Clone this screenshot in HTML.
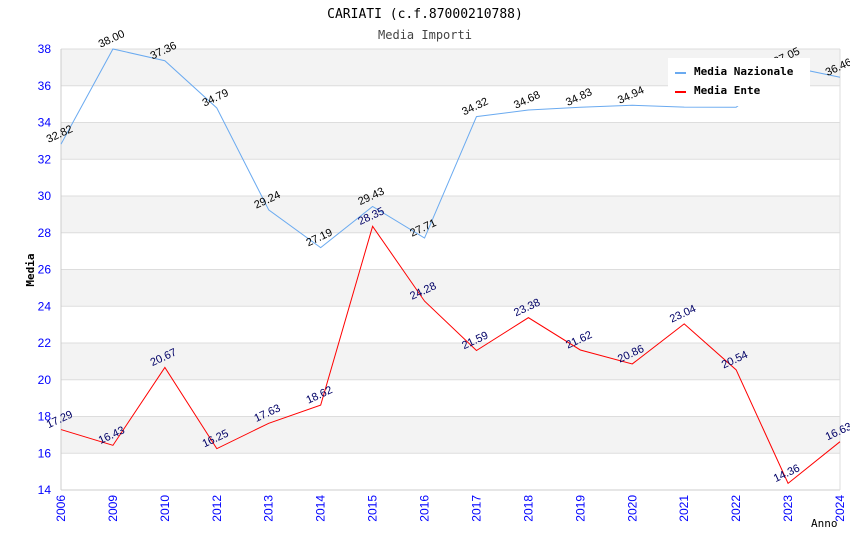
<!DOCTYPE html>
<html><head><meta charset="utf-8"><style>
body{margin:0;background:#fff}
svg{display:block;font-family:"Liberation Sans",sans-serif}
</style></head><body>
<svg id="chart" width="850" height="550" xmlns="http://www.w3.org/2000/svg">
<text x="425" y="18" text-anchor="middle" font-family="DejaVu Sans Mono,Liberation Mono,monospace" font-size="13">CARIATI (c.f.87000210788)</text>
<text x="425" y="39" text-anchor="middle" font-family="DejaVu Sans Mono,Liberation Mono,monospace" font-size="12" fill="#444">Media Importi</text>
<g id="bands"></g><g id="grid"></g><g id="axes"></g><g id="series"></g><g id="labels"></g>
<text transform="translate(34,270) rotate(-90)" text-anchor="middle" font-family="DejaVu Sans Mono,monospace" font-size="11" font-weight="bold">Media</text>
<text x="811" y="527" font-family="DejaVu Sans Mono,monospace" font-size="11">Anno</text>
<g>
<rect x="668" y="58" width="142" height="48" fill="#fff"/>
<line x1="675" y1="73" x2="686" y2="73" stroke="#6aaaf0" stroke-width="2"/>
<text x="694" y="75" font-family="DejaVu Sans Mono,monospace" font-size="11" font-weight="bold">Media Nazionale</text>
<line x1="675" y1="92" x2="686" y2="92" stroke="#f00" stroke-width="2"/>
<text x="694" y="94" font-family="DejaVu Sans Mono,monospace" font-size="11" font-weight="bold">Media Ente</text>
</g>
</svg>
<script>
const categories=["2006","2009","2010","2012","2013","2014","2015","2016","2017","2018","2019","2020","2021","2022","2023","2024"];
const nazionale=[32.82,38.00,37.36,34.79,29.24,27.19,29.43,27.71,34.32,34.68,34.83,34.94,34.84,34.83,37.05,36.46];
const ente=[17.29,16.43,20.67,16.25,17.63,18.62,28.35,24.28,21.59,23.38,21.62,20.86,23.04,20.54,14.36,16.63];
const yTicks=[14,16,18,20,22,24,26,28,30,32,34,36,38];
const NS="http://www.w3.org/2000/svg";
const L=61,R=840,T=49,B=490,YMIN=14,YMAX=38;
const x=i=>L+i*(R-L)/(categories.length-1);
const y=v=>B-(v-YMIN)*(B-T)/(YMAX-YMIN);
function mk(tag,attrs,parent,text){const e=document.createElementNS(NS,tag);for(const k in attrs)e.setAttribute(k,attrs[k]);if(text!==undefined)e.textContent=text;document.getElementById(parent).appendChild(e);return e;}
for(let k=0;k<yTicks.length-1;k++){
  if(k%2===1){const r=mk('rect',{x:L,y:y(yTicks[k+1]),width:R-L,height:y(yTicks[k])-y(yTicks[k+1]),fill:'#f3f3f3'},'bands');
  
  }
}
yTicks.forEach(t=>{
  const g=mk('line',{x1:L,x2:R,y1:y(t),y2:y(t),stroke:'#ddd'},'grid');
  
  
  const tx=mk('text',{x:L-10,y:y(t)+4,'text-anchor':'end','font-size':12,fill:'#00f'},'axes',String(t));
  
  
});
mk('line',{x1:L,x2:L,y1:T,y2:B,stroke:'#ccc'},'axes');
mk('line',{x1:L,x2:R,y1:B,y2:B,stroke:'#ccc'},'axes');
mk('line',{x1:R,x2:R,y1:T,y2:B,stroke:'#ddd'},'axes');
categories.forEach((c,i)=>{
  const tx=mk('text',{transform:`translate(${x(i)+4},${B+5}) rotate(-90)`,'text-anchor':'end','font-size':12,fill:'#00f'},'axes',c);
  
  
});
function series(vals,color,labColor,name){
  const p=mk('polyline',{points:vals.map((v,i)=>x(i)+','+y(v)).join(' '),fill:'none',stroke:color,'stroke-width':1},'series');
  
  
  vals.forEach((v,i)=>{
    const t=mk('text',{transform:`translate(${x(i)},${y(v)-7}) rotate(-25)`,'text-anchor':'middle','font-size':11,fill:labColor},'labels',v.toFixed(2));
    
    
  });
}
series(nazionale,'#6aaaf0','#000','nazionale');
series(ente,'#f00','#006','ente');
</script>
</body></html>
